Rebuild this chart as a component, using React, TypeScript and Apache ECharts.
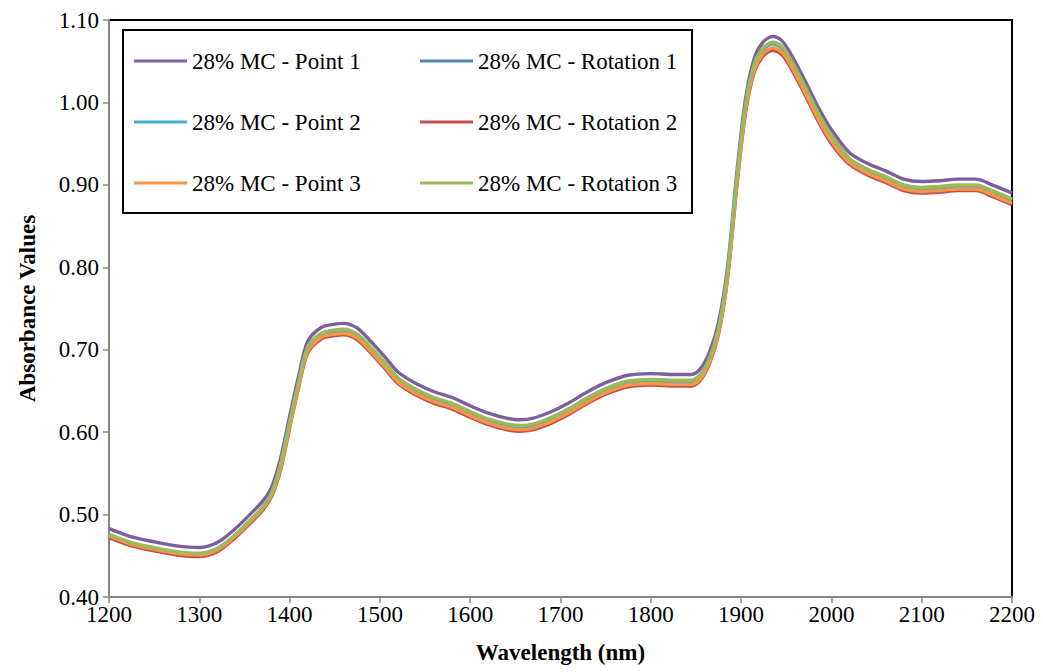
import React, { useEffect, useRef } from "react";
import * as echarts from "echarts";

const wavelengths = [1200,1225,1250,1275,1300,1320,1340,1355,1370,1380,1390,1400,1410,1420,1435,1450,1460,1475,1490,1505,1520,1540,1560,1580,1600,1620,1640,1655,1670,1690,1710,1730,1750,1775,1800,1825,1845,1855,1865,1875,1885,1895,1905,1915,1925,1935,1945,1955,1970,1985,2000,2020,2040,2060,2080,2100,2120,2140,2160,2180,2200];

const point1 = [0.483,0.473,0.467,0.462,0.460,0.466,0.483,0.499,0.516,0.533,0.568,0.619,0.668,0.710,0.727,0.731,0.732,0.726,0.710,0.692,0.673,0.659,0.649,0.642,0.632,0.623,0.617,0.615,0.617,0.625,0.636,0.649,0.660,0.669,0.671,0.670,0.670,0.677,0.697,0.733,0.800,0.912,1.005,1.055,1.074,1.080,1.075,1.059,1.028,0.995,0.967,0.939,0.926,0.917,0.907,0.904,0.905,0.907,0.907,0.899,0.890];
const rotation1 = [0.474,0.464,0.458,0.453,0.451,0.457,0.474,0.490,0.507,0.524,0.559,0.610,0.659,0.701,0.718,0.722,0.723,0.717,0.701,0.683,0.664,0.650,0.640,0.633,0.623,0.614,0.608,0.606,0.608,0.616,0.627,0.640,0.651,0.660,0.662,0.661,0.661,0.668,0.688,0.724,0.791,0.903,0.996,1.046,1.065,1.071,1.066,1.050,1.019,0.986,0.958,0.930,0.917,0.908,0.898,0.895,0.896,0.898,0.898,0.890,0.881];
const point2 = [0.475,0.465,0.459,0.454,0.452,0.458,0.475,0.491,0.508,0.525,0.560,0.611,0.660,0.702,0.719,0.723,0.724,0.718,0.702,0.684,0.665,0.651,0.641,0.634,0.624,0.615,0.609,0.607,0.609,0.617,0.628,0.641,0.652,0.661,0.663,0.662,0.662,0.669,0.689,0.725,0.792,0.904,0.997,1.047,1.066,1.072,1.067,1.051,1.020,0.987,0.959,0.931,0.918,0.909,0.899,0.896,0.897,0.899,0.899,0.891,0.882];
const rotation2 = [0.472,0.462,0.456,0.451,0.449,0.455,0.472,0.488,0.505,0.522,0.554,0.605,0.654,0.696,0.713,0.717,0.718,0.712,0.696,0.678,0.659,0.645,0.635,0.628,0.618,0.609,0.603,0.601,0.603,0.611,0.622,0.635,0.646,0.655,0.657,0.656,0.656,0.663,0.683,0.719,0.786,0.895,0.988,1.038,1.057,1.063,1.058,1.042,1.011,0.978,0.950,0.925,0.912,0.903,0.893,0.890,0.891,0.893,0.893,0.885,0.876];
const point3 = [0.474,0.464,0.458,0.453,0.451,0.457,0.474,0.490,0.507,0.524,0.556,0.607,0.656,0.698,0.715,0.719,0.720,0.714,0.698,0.680,0.661,0.647,0.637,0.630,0.620,0.611,0.605,0.603,0.605,0.613,0.624,0.637,0.648,0.657,0.659,0.658,0.658,0.665,0.685,0.721,0.788,0.898,0.991,1.041,1.060,1.066,1.061,1.045,1.014,0.981,0.953,0.927,0.914,0.905,0.895,0.892,0.893,0.895,0.895,0.887,0.878];
const rotation3 = [0.476,0.466,0.460,0.455,0.453,0.459,0.476,0.492,0.509,0.526,0.561,0.612,0.661,0.703,0.720,0.724,0.725,0.719,0.703,0.685,0.666,0.652,0.642,0.635,0.625,0.616,0.610,0.608,0.610,0.618,0.629,0.642,0.653,0.662,0.664,0.663,0.663,0.670,0.690,0.726,0.793,0.905,0.998,1.048,1.067,1.073,1.068,1.052,1.021,0.988,0.960,0.932,0.919,0.910,0.900,0.897,0.898,0.900,0.900,0.892,0.883];

const seriesNames = [
  "28% MC - Point 1",
  "28% MC - Rotation 1",
  "28% MC - Point 2",
  "28% MC - Rotation 2",
  "28% MC - Point 3",
  "28% MC - Rotation 3",
];
const seriesValues = [point1, rotation1, point2, rotation2, point3, rotation3];
const seriesColors = ["#7D5FA0", "#4F81BD", "#4BACC6", "#C0504D", "#F79646", "#9BBB59"];

const FONT = "Liberation Serif";

export default function App() {
  const ref = useRef<HTMLDivElement>(null);
  useEffect(() => {
    if (!ref.current) return;
    const chart = echarts.init(ref.current, undefined, { renderer: "svg" });
    const series = seriesNames.map((name, i) => ({
      name,
      type: "line",
      data: wavelengths.map((w, j) => [w, seriesValues[i][j]]),
      smooth: 0.3,
      symbol: "none",
      lineStyle: { width: 3.4, color: seriesColors[i] },
      itemStyle: { color: seriesColors[i] },
      z: 2 + i,
    }));
    const normalText = { fontFamily: FONT, fontSize: 23, fontWeight: 500, color: "#000" };
    const legendBase = {
      orient: "vertical",
      top: 49,
      padding: 0,
      itemWidth: 53,
      itemHeight: 3,
      itemGap: 37,
      icon: "rect",
      selectedMode: false,
      textStyle: { ...normalText, lineHeight: 24 },
      z: 20,
    };
    chart.setOption({
      animation: false,
      backgroundColor: "#fff",
      grid: {
        left: 109,
        right: 31,
        top: 20,
        bottom: 75,
        show: true,
        borderColor: "#000",
        borderWidth: 2,
        backgroundColor: "transparent",
      },
      xAxis: {
        type: "value",
        min: 1200,
        max: 2200,
        interval: 100,
        name: "Wavelength (nm)",
        nameLocation: "middle",
        nameGap: 44,
        nameTextStyle: { fontFamily: FONT, fontSize: 23, fontWeight: "bold", color: "#000" },
        axisLine: { show: true, lineStyle: { color: "#868686", width: 2 } },
        axisTick: { show: true, inside: false, length: 6, lineStyle: { color: "#868686", width: 1.5 } },
        axisLabel: { ...normalText, margin: 6, formatter: (v: number) => String(v) },
        splitLine: { show: false },
      },
      yAxis: {
        type: "value",
        min: 0.4,
        max: 1.1,
        interval: 0.1,
        name: "Absorbance Values",
        nameLocation: "middle",
        nameGap: 70,
        nameTextStyle: { fontFamily: FONT, fontSize: 23, fontWeight: "bold", color: "#000" },
        axisLine: { show: true, lineStyle: { color: "#868686", width: 2 } },
        axisTick: { show: true, inside: false, length: 6, lineStyle: { color: "#868686", width: 1.5 } },
        axisLabel: { ...normalText, margin: 10, formatter: (v: number) => v.toFixed(2) },
        splitLine: { show: false },
      },
      legend: [
        {
          ...legendBase,
          data: [seriesNames[0], seriesNames[2], seriesNames[4]].map((n, k) => ({
            name: n,
            itemStyle: { color: seriesColors[k * 2] },
          })),
          left: 134,
        },
        {
          ...legendBase,
          data: [seriesNames[1], seriesNames[3], seriesNames[5]].map((n, k) => ({
            name: n,
            itemStyle: { color: seriesColors[k * 2 + 1] },
          })),
          left: 420,
        },
      ],
      graphic: [
        {
          type: "rect",
          shape: { x: 123, y: 30, width: 569, height: 183 },
          style: { fill: "#fff", stroke: "#000", lineWidth: 2 },
          z: 10,
          silent: true,
        },
      ],
      series,
    });
    return () => chart.dispose();
  }, []);
  return (
    <div
      ref={ref}
      style={{ width: 1043, height: 672, position: "absolute", left: 0, top: 0 }}
    />
  );
}
